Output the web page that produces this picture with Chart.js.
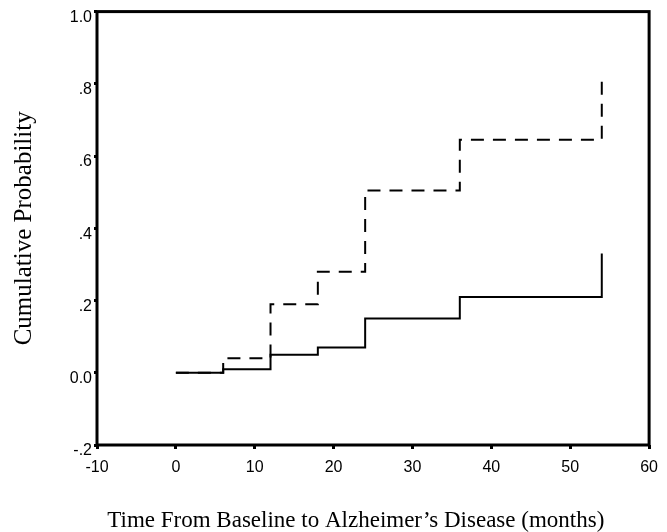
<!DOCTYPE html>
<html>
<head>
<meta charset="utf-8">
<script src="https://cdn.jsdelivr.net/npm/chart.js@4/dist/chart.umd.min.js"></script>
<style>
  html, body { margin: 0; padding: 0; background: #fff; }
  #wrap { width: 667px; height: 532px; }
</style>
</head>
<body>
<div id="wrap"><canvas id="cum-chart"></canvas></div>
<script>
// step times (months); last time repeated for the vertical end of each curve
const months = [0, 6, 12, 18, 24, 36, 54, 54];
const solidProb = [0, 0.01, 0.05, 0.07, 0.15, 0.21, 0.21, 0.33];
const dashedProb = [0, 0.04, 0.19, 0.28, 0.505, 0.645, 0.645, 0.815];

const xTicks = [-10, 0, 10, 20, 30, 40, 50, 60];
const yTicks = [-0.2, 0, 0.2, 0.4, 0.6, 0.8, 1.0];
const yTickLabels = ['-.2', '0.0', '.2', '.4', '.6', '.8', '1.0'];

const toPoints = vals => vals.map((v, i) => ({ x: months[i], y: v }));

// box around the plot area
const frame = {
    id: 'frame',
    afterDraw(chart) {
        const { ctx, chartArea: a } = chart;
        ctx.save();
        ctx.strokeStyle = '#000';
        ctx.lineWidth = 3;
        ctx.strokeRect(a.left, a.top, a.right - a.left, a.bottom - a.top);
        ctx.restore();
    }
};

const ctx = document.getElementById('cum-chart').getContext('2d');
new Chart(ctx, {
    type: 'line',
    data: {
        datasets: [{
            data: toPoints(solidProb),
            borderColor: '#000',
            borderWidth: 2,
            stepped: 'before',
            pointRadius: 0
        }, {
            data: toPoints(dashedProb),
            borderColor: '#000',
            borderWidth: 2,
            borderDash: [13, 9],
            stepped: 'before',
            pointRadius: 0
        }]
    },
    options: {
        responsive: true,
        maintainAspectRatio: false,
        animation: false,
        layout: { padding: { top: 11, right: 14, left: 0, bottom: 0 } },
        plugins: { legend: { display: false }, tooltip: { enabled: false } },
        scales: {
            x: {
                type: 'linear',
                min: -10,
                max: 60,
                afterFit: s => { s.height = 87; },
                afterBuildTicks: s => { s.ticks = xTicks.map(v => ({ value: v })); },
                grid: { drawOnChartArea: false, color: '#000', lineWidth: 3, tickLength: 4 },
                border: { display: false },
                ticks: {
                    color: '#000',
                    padding: 9,
                    font: { family: 'Liberation Sans, Arial, sans-serif', size: 16 }
                },
                title: {
                    display: true,
                    // trailing spaces shift the centred title left, as in the original
                    text: 'Time From Baseline to Alzheimer\u2019s Disease (months)\u00a0\u00a0\u00a0\u00a0\u00a0\u00a0',
                    color: '#000',
                    padding: { top: 0, bottom: 0 },
                    font: { family: 'Liberation Serif, Times New Roman, serif', size: 23, lineHeight: 1 }
                }
            },
            y: {
                min: -0.2,
                max: 1.0,
                afterFit: s => { s.width = 97; },
                afterBuildTicks: s => { s.ticks = yTicks.map(v => ({ value: v })); },
                grid: { drawOnChartArea: false, color: '#000', lineWidth: 3, tickLength: 3 },
                border: { display: false },
                ticks: {
                    color: '#000',
                    padding: 2,
                    labelOffset: 6,
                    font: { family: 'Liberation Sans, Arial, sans-serif', size: 16 },
                    callback: (v, i) => yTickLabels[i]
                },
                title: {
                    display: true,
                    text: 'Cumulative Probability',
                    color: '#000',
                    padding: { top: 12, bottom: 0 },
                    font: { family: 'Liberation Serif, Times New Roman, serif', size: 25, lineHeight: 1 }
                }
            }
        }
    },
    plugins: [frame]
});
</script>
</body>
</html>
